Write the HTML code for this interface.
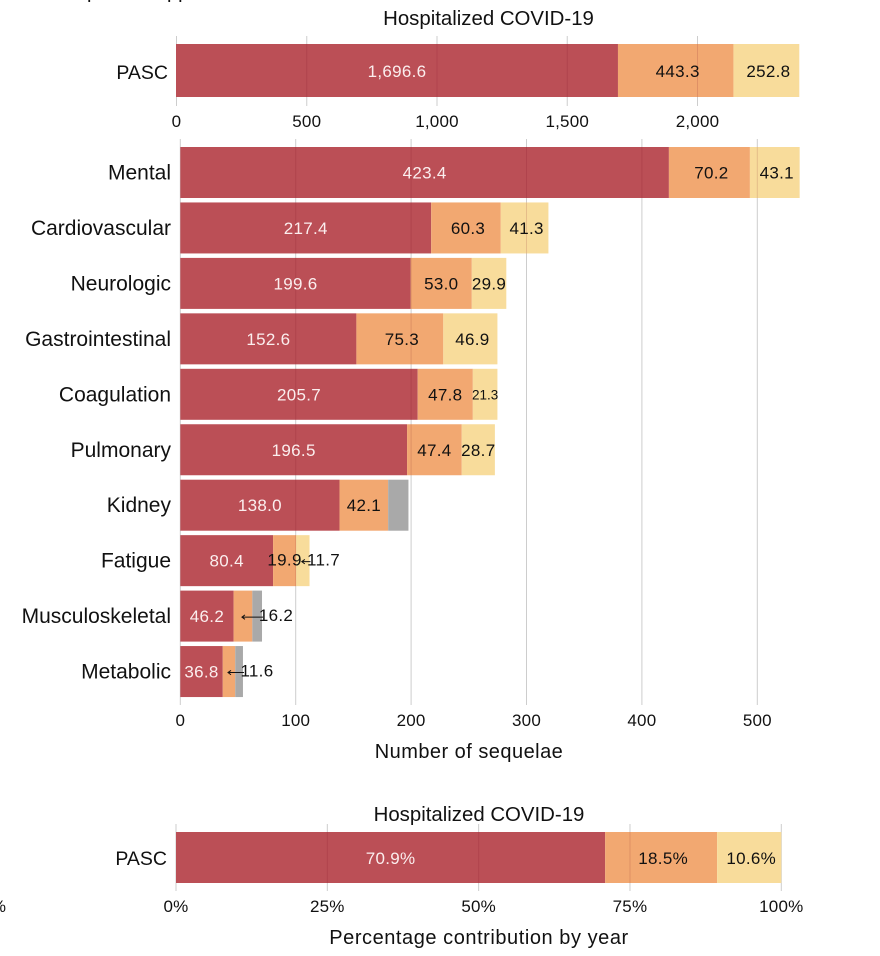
<!DOCTYPE html>
<html lang="en">
<head>
<meta charset="utf-8">
<title>Hospitalized COVID-19 sequelae</title>
<style>
html,body{margin:0;padding:0;background:#fff}
svg{display:block;font-family:"Liberation Sans",sans-serif}
text{fill:#111}
</style>
</head>
<body>
<svg id="chart" width="880" height="956" viewBox="0 0 880 956" xmlns="http://www.w3.org/2000/svg">
  <text x="87" y="-2" font-size="20">p</text>
  <text x="167" y="-2" font-size="20">pp</text>
  <text x="6" y="912" font-size="17" text-anchor="end">100%</text>
  <text x="488.5" y="25" font-size="20.4" text-anchor="middle">Hospitalized COVID-19</text>
  <text x="469" y="758" font-size="20" letter-spacing="0.47" text-anchor="middle">Number of sequelae</text>
  <text x="479" y="821" font-size="20.4" text-anchor="middle">Hospitalized COVID-19</text>
  <text x="479" y="944" font-size="20" letter-spacing="0.55" text-anchor="middle">Percentage contribution by year</text>
</svg>
<script>
// Top panel: total PASC sequelae
const totalValues = [1696.6, 443.3, 252.8];
const totalLabels = ['1,696.6', '443.3', '252.8'];
const totalTicks = [0, 500, 1000, 1500, 2000];
const totalTickLabels = ['0', '500', '1,000', '1,500', '2,000'];

// Main panel: sequelae by category
const categories = ['Mental', 'Cardiovascular', 'Neurologic', 'Gastrointestinal', 'Coagulation', 'Pulmonary', 'Kidney', 'Fatigue', 'Musculoskeletal', 'Metabolic'];
const year1 = [423.4, 217.4, 199.6, 152.6, 205.7, 196.5, 138.0, 80.4, 46.2, 36.8];
const year2 = [70.2, 60.3, 53.0, 75.3, 47.8, 47.4, 42.1, 19.9, 16.2, 10.8];
const year3 = [43.1, 41.3, 29.9, 46.9, 21.3, 28.7, 17.6, 11.7, 8.4, 6.7];
const year2Labels = ['70.2', '60.3', '53.0', '75.3', '47.8', '47.4', '42.1', '19.9', '16.2', '11.6'];
const year3Labels = ['43.1', '41.3', '29.9', '46.9', '21.3', '28.7', '', '11.7', '', ''];
const year3Muted = [false, false, false, false, false, false, true, false, true, true];
const calloutSegment = [null, null, null, null, null, null, null, 2, 1, 1];
const mainTicks = [0, 100, 200, 300, 400, 500];

// Bottom panel: percentage contribution
const shareValues = [70.9, 18.5, 10.6];
const shareLabels = ['70.9%', '18.5%', '10.6%'];
const shareTicks = [0, 25, 50, 75, 100];

const svg = document.getElementById('chart');
const NS = 'http://www.w3.org/2000/svg';
const RED = '#bb4f56', ORANGE = '#f2a871', YELLOW = '#f8dc9b', GREY = '#a9a9a9';

const xTotal = v => 176 + v * 0.2605;
const xMain = v => 180.3 + v * 1.154;
const xShare = v => 176 + v * 6.053;

function mk(tag, attrs, txt) {
  const el = document.createElementNS(NS, tag);
  for (const k in attrs) el.setAttribute(k, attrs[k]);
  if (txt !== undefined) el.textContent = txt;
  svg.appendChild(el);
  return el;
}

function segment(name, x0, x1, y, h, fill) {
  const el = mk('rect', {x: x0, y: y, width: x1 - x0, height: h, fill: fill});
  
  
}

function valueLabel(name, x, y, txt, light, size) {
  const el = mk('text', {x: x, y: y, 'font-size': size || 17, 'letter-spacing': size ? 0 : 0.3, 'text-anchor': 'middle', style: 'fill:' + (light ? '#fbeeee' : '#111')}, txt);
  
  
}

function categoryLabel(name, x, y, txt, size) {
  const el = mk('text', {x: x, y: y, 'font-size': size || 21, 'text-anchor': 'end'}, txt);
  
  
}

function gridLine(name, x, y0, y1) {
  const el = mk('line', {x1: x, x2: x, y1: y0, y2: y1, stroke: '#cdcdcd', 'stroke-width': 1});
  
  
}

function gridTint(name, x, y0, y1) {
  const el = mk('line', {x1: x, x2: x, y1: y0, y2: y1, stroke: 'rgba(110,0,30,0.14)', 'stroke-width': 1});
  
  
}

function tickLabel(name, x, y, txt) {
  const el = mk('text', {x: x, y: y, 'font-size': 17, 'letter-spacing': 0.2, 'text-anchor': 'middle'}, txt);
  
  
}

function arrow(name, tail, tip, y) {
  const el = mk('path', {d: 'M' + tail + ' ' + y + 'H' + tip + 'm3 -2.2L' + tip + ' ' + y + 'l3 2.2', fill: 'none', stroke: '#111', 'stroke-width': 1});
  
  
}

function stackedPanel(prefix, values, xFn, top, h) {
  const colors = [RED, ORANGE, YELLOW];
  let acc = 0;
  values.forEach((v, i) => {
    segment(prefix + '-segment-' + (i + 1), xFn(acc), xFn(acc + v), top, h, colors[i]);
    acc += v;
  });
}

function stackedLabels(prefix, values, labels, xFn, baseline) {
  let acc = 0;
  values.forEach((v, i) => {
    const cx = (xFn(acc) + xFn(acc + v)) / 2 + (i ? 2 : 0);
    valueLabel(prefix + '-value-' + (i + 1), cx, baseline, labels[i], i === 0);
    acc += v;
  });
}

/* Top panel */
totalTicks.forEach((t, i) => {
  gridLine('top-gridline-' + t, xTotal(t) + 0.5, 36, 106);
  tickLabel('top-tick-' + t, xTotal(t) + 0.5, 127, totalTickLabels[i]);
});
stackedPanel('pasc-total', totalValues, xTotal, 44, 53);
totalTicks.forEach(t => {
  if (t > 0) gridTint('top-grid-over-bar-' + t, xTotal(t) + 0.5, 44, 97);
});
stackedLabels('pasc-total', totalValues, totalLabels, xTotal, 77);
categoryLabel('top-row-label-pasc', 168, 79, 'PASC', 19.5);

/* Main panel */
const ROW_STEP = 55.45, ROW_TOP = 147, ROW_H = 51;
mainTicks.forEach(t => {
  gridLine('main-gridline-' + t, xMain(t), 139, 705);
  tickLabel('main-tick-' + t, xMain(t), 726, String(t));
});
categories.forEach((c, i) => {
  const key = c.toLowerCase();
  const y = ROW_TOP + i * ROW_STEP;
  const a = year1[i], b = a + year2[i], t = b + year3[i];
  segment('bar-' + key + '-year1', xMain(0), xMain(a), y, ROW_H, RED);
  segment('bar-' + key + '-year2', xMain(a), xMain(b), y, ROW_H, ORANGE);
  segment('bar-' + key + '-year3', xMain(b), xMain(t), y, ROW_H, year3Muted[i] ? GREY : YELLOW);
  mainTicks.forEach(g => {
    if (g > 0 && g < t) gridTint('grid-over-' + key + '-' + g, xMain(g), y, y + ROW_H);
  });
});
categories.forEach((c, i) => {
  const key = c.toLowerCase();
  const y = ROW_TOP + i * ROW_STEP;
  const mid = y + ROW_H / 2;
  const a = year1[i], b = a + year2[i], t = b + year3[i];
  categoryLabel('row-label-' + key, 171, mid + 7, c);
  valueLabel('value-' + key + '-year1', (xMain(0) + xMain(a)) / 2, mid + 6, a.toFixed(1), true);

  const segBounds = [null, [a, b], [b, t]];
  [1, 2].forEach(s => {
    const txt = s === 1 ? year2Labels[i] : year3Labels[i];
    if (!txt) return;
    const cx = (xMain(segBounds[s][0]) + xMain(segBounds[s][1])) / 2;
    if (calloutSegment[i] === s) {
      const end = xMain(t);
      valueLabel('callout-value-' + key, end + 14, mid + 5, txt, false);
      arrow('callout-arrow-' + key, end + 1, cx - 1, mid + 1);
    } else if (calloutSegment[i] !== null) {
      valueLabel('value-' + key + '-year' + (s + 1), cx, mid + 5, txt, false);
    } else {
      const small = year3[i] < 25 && s === 2;
      valueLabel('value-' + key + '-year' + (s + 1), cx + (year3[i] > 30 ? 2 : 0), mid + (small ? 5 : 6), txt, false, small ? 13.5 : 0);
    }
  });
});

/* Bottom panel */
shareTicks.forEach(t => {
  gridLine('bottom-gridline-' + t, xShare(t), 824, 891);
  tickLabel('bottom-tick-' + t, xShare(t), 912, t + '%');
});
stackedPanel('pasc-share', shareValues, xShare, 832, 51);
shareTicks.forEach(t => {
  if (t > 0 && t < 100) gridTint('bottom-grid-over-bar-' + t, xShare(t), 832, 883);
});
stackedLabels('pasc-share', shareValues, shareLabels, xShare, 864);
categoryLabel('bottom-row-label-pasc', 167, 865, 'PASC', 19.5);
</script>
</body>
</html>
